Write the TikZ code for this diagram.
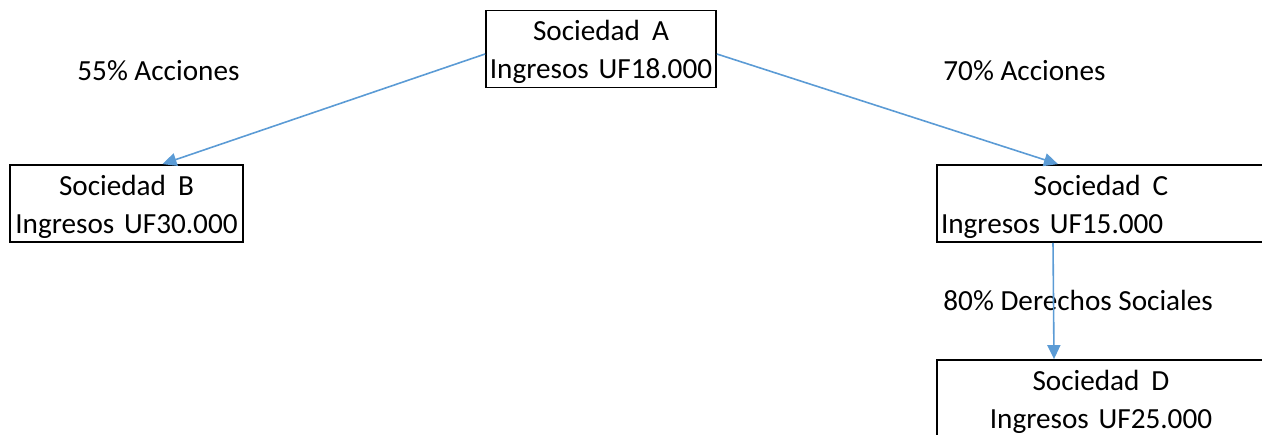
\documentclass[tikz,border=0pt]{standalone}
\usepackage{fontspec}
\setmainfont{Carlito}
\usetikzlibrary{arrows.meta}
\definecolor{linkblue}{HTML}{5B9BD5}
\tikzset{
  socbox/.style={draw, line width=0.9pt, inner sep=0pt, text height=15pt, text depth=23.5pt,
    font=\fontsize{14.6}{19}\selectfont},
  pct/.style={inner sep=0pt, font=\fontsize{14.6}{19}\selectfont},
  link/.style={draw=linkblue, line width=0.8pt, -{Triangle[length=7pt,width=6.5pt]}}
}
\begin{document}
\begin{tikzpicture}[x=0.5pt, y=-0.5pt]
\useasboundingbox (0,0) rectangle (1262,434);
\node[socbox, text width=115pt, align=center] (A) at (601,49) {Sociedad\hspace{6pt}A\\Ingresos UF18.000};
\node[socbox, text width=116.5pt, align=center] (B) at (126.5,203.5) {Sociedad\hspace{6pt}B\\Ingresos UF30.000};
\node[socbox, text width=164pt] (C) at (1101,203.5) {{\centering Sociedad\hspace{6pt}C\par}\raggedright\hspace*{2pt}Ingresos UF15.000};
\node[socbox, text width=164pt, align=center] (D) at (1101,398.5) {Sociedad\hspace{6pt}D\\Ingresos UF25.000};
\node[pct, anchor=base west] (pAB) at (77,80) {55\% Acciones};
\node[pct, anchor=base west] (pAC) at (943,80) {70\% Acciones};
\node[pct, anchor=base west] (pCD) at (943,310) {80\% Derechos Sociales};
\draw [link] ([yshift=-2.5pt]A.west) -- ([xshift=18pt]B.north);
\draw [link] ([yshift=-2.5pt]A.east) -- ([xshift=-21.5pt]C.north);
\draw [link] ([xshift=-24pt]C.south) -- ([xshift=-23.5pt]D.north);
\end{tikzpicture}
\end{document}
